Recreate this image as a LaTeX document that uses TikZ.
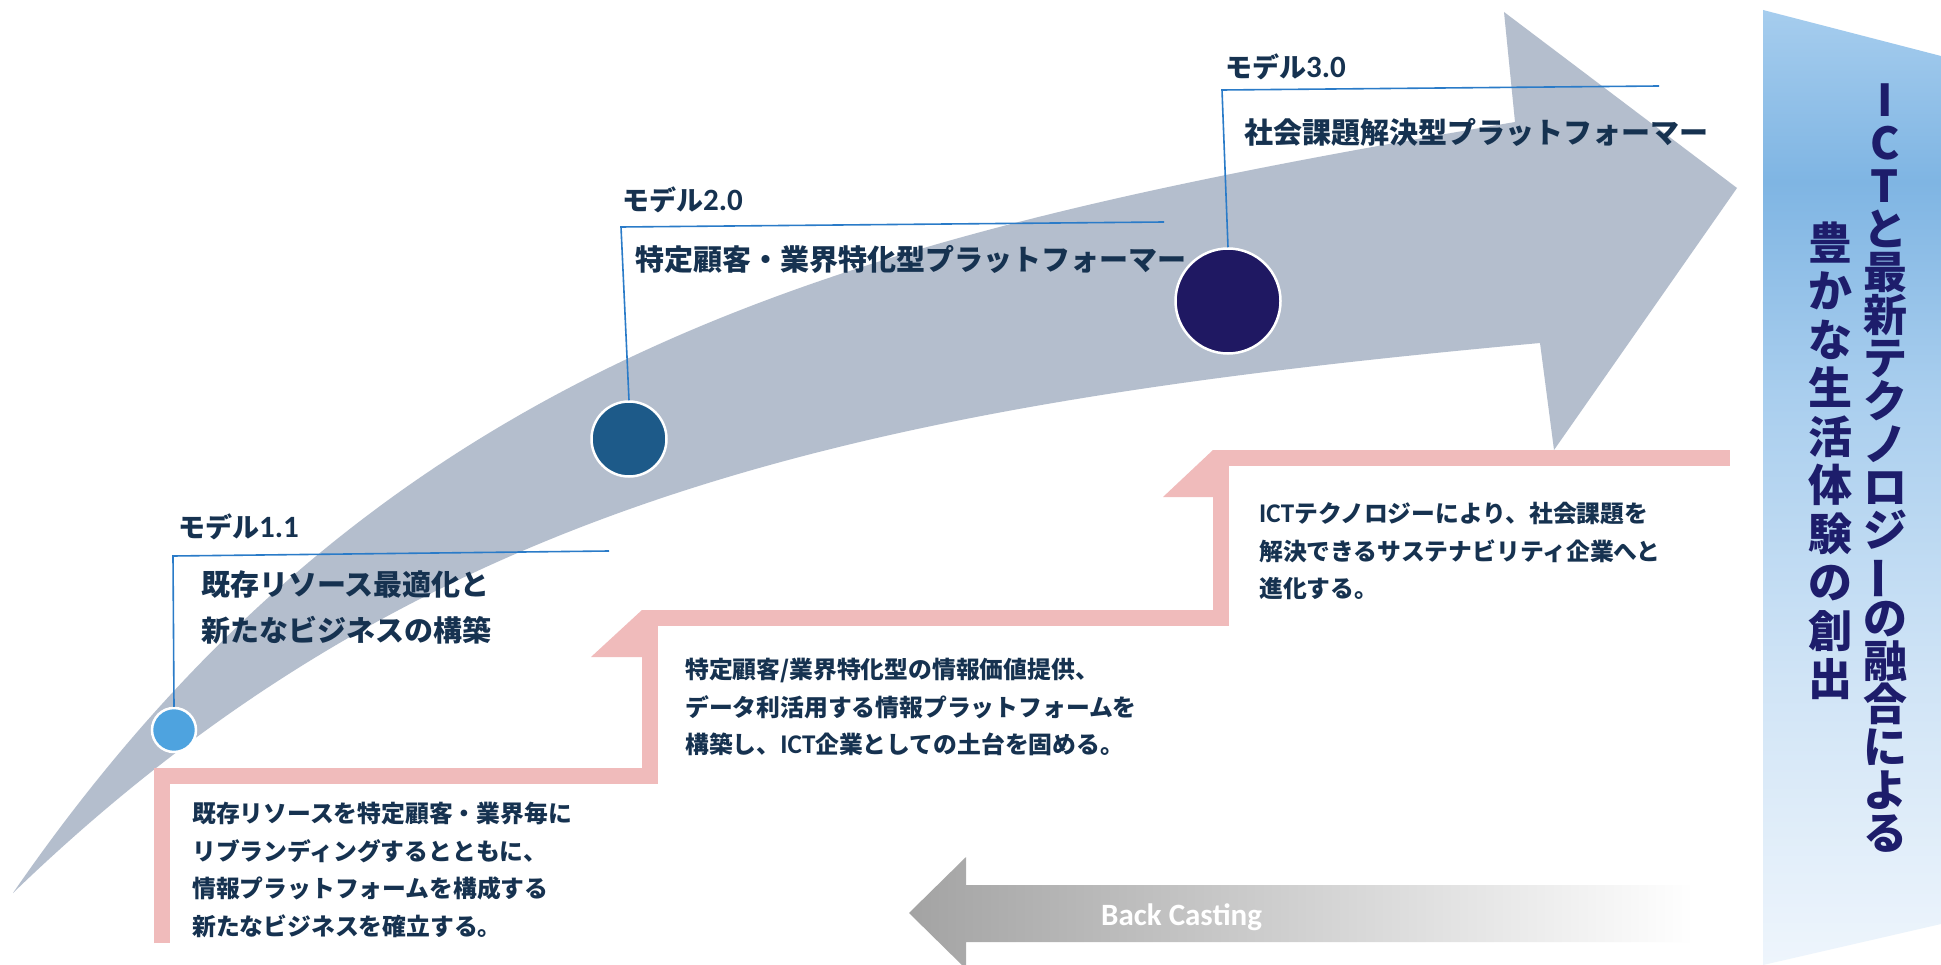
\documentclass[tikz,border=0pt]{standalone}
\usepackage{fontspec}
\usepackage{graphicx}
\setmainfont{Noto Sans CJK JP}
\newfontfamily\lat{Carlito}[BoldFont={Carlito Bold}]
\definecolor{bandc}{HTML}{B4BECD}
\definecolor{pinkc}{HTML}{F0BBBB}
\definecolor{dotA}{HTML}{4EA3DF}
\definecolor{dotB}{HTML}{1D5A89}
\definecolor{dotC}{HTML}{1F1862}
\definecolor{calloutc}{HTML}{2A7BC8}
\definecolor{txt}{HTML}{163250}
\definecolor{bannertxt}{HTML}{1D1D6B}
\definecolor{bcgrey}{HTML}{A3A3A3}
\definecolor{bnA}{HTML}{EEF5FC}
\definecolor{bnB}{HTML}{D0E4F6}
\definecolor{bnC}{HTML}{A9CEEE}
\definecolor{bnD}{HTML}{7FB5E3}
\definecolor{bnE}{HTML}{A6CDEE}
\pgfdeclareverticalshading{bannershade}{100bp}{color(0bp)=(bnA); color(25bp)=(bnA); color(40bp)=(bnB); color(55bp)=(bnC); color(66bp)=(bnD); color(75bp)=(bnE); color(100bp)=(bnE)}
\newcommand{\vbar}{\rotatebox[origin=c]{90}{ー}}
\newcommand{\latnum}[1]{{\lat\bfseries\fontsize{31}{32}\selectfont #1}}
\newcommand{\latict}{{\lat\bfseries\fontsize{27}{30}\selectfont ICT}}
\tikzset{
  lbl/.style={anchor=north west, inner sep=0pt, text=txt, font=\bfseries\fontsize{27}{30}\selectfont},
  ttl/.style={anchor=north west, inner sep=0pt, text=txt, align=left, font=\bfseries\fontsize{29}{46}\selectfont},
  desc/.style={anchor=north west, inner sep=0pt, text=txt, align=left, font=\bfseries\fontsize{23.8}{37.7}\selectfont},
  dot/.style={circle, draw=white, line width=2.5pt, inner sep=0pt},
  callout/.style={draw=calloutc, line width=1.6pt},
  stairs/.style={draw=pinkc, line width=16pt, line join=miter},
  vtext/.style={align=center, inner sep=0pt, text=bannertxt},
}
\begin{document}
\begin{tikzpicture}[x=1pt,y=-1pt]
\path[use as bounding box] (0,0) rectangle (1941,965);
\fill[white] (0,0) rectangle (1941,965);
% big curved arrow
\fill[bandc] (13,893) .. controls (393,342) and (865,233) .. (1515,122)
  -- (1504,12) -- (1737,188) -- (1554,450) -- (1540,343)
  .. controls (860,405) and (420,500) .. (13,893) -- cycle;
% pink stairs
\draw[stairs] (162,943) -- (162,776) -- (650,776) -- (650,618) -- (1221,618) -- (1221,458) -- (1730,458);
\fill[pinkc] (591,657) -- (642,610) -- (642,657) -- cycle;
\fill[pinkc] (1163,497) -- (1213,450) -- (1213,497) -- cycle;
% circles
\node[dot, fill=dotA, minimum size=44pt] (c1) at (174,730) {};
\node[dot, fill=dotB, minimum size=75pt] (c2) at (629,439) {};
\node[dot, fill=dotC, minimum size=105pt] (c3) at (1228,301) {};
% callouts
\coordinate (k1a) at (173,556);
\coordinate (k1b) at (609,551);
\coordinate (k2a) at (621,227);
\coordinate (k2b) at (1164,222);
\coordinate (k3a) at (1222,90);
\coordinate (k3b) at (1659,86);
\draw[callout] (c1.north) -- (k1a) -- (k1b);
\draw[callout] (c2.north) -- (k2a) -- (k2b);
\draw[callout] (c3.north) -- (k3a) -- (k3b);
% labels
\node[lbl] (m1) at (178,514) {モデル\latnum{1.1}};
\node[lbl] (m2) at (622,187) {モデル\latnum{2.0}};
\node[lbl] (m3) at (1225,54) {モデル\latnum{3.0}};
\node[ttl] (t1) at (201,570) {既存リソース最適化と\\新たなビジネスの構築};
\node[ttl] (t2) at (635,245) {特定顧客・業界特化型プラットフォーマー};
\node[ttl] (t3) at (1244,118) {社会課題解決型プラットフォーマー};
\node[desc] (d1) at (192,802) {既存リソースを特定顧客・業界毎に\\リブランディングするとともに、\\情報プラットフォームを構成する\\新たなビジネスを確立する。};
\node[desc] (d2) at (685,658) {特定顧客/業界特化型の情報価値提供、\\データ利活用する情報プラットフォームを\\構築し、\latict 企業としての土台を固める。};
\node[desc] (d3) at (1259,502) {\latict テクノロジーにより、社会課題を\\解決できるサステナビリティ企業へと\\進化する。};
% back casting arrow
\shade[left color=bcgrey, right color=white] (909,913) -- (966,857) -- (966,885) -- (1694,885) -- (1694,942) -- (966,942) -- (966,969) -- cycle;
\node[anchor=west, inner sep=0pt, text=white, font=\lat\bfseries\fontsize{31}{33}\selectfont] (bc) at (1101,917) {Back Casting};
% banner
\shade[shading=bannershade] (1763,10) -- (1941,56) -- (1941,924) -- (1763,965) -- cycle;
\node[vtext, font=\bfseries\fontsize{44}{43}\selectfont] (vr) at (1885,468) {I\\C\\T\\と\\最\\新\\テ\\ク\\ノ\\ロ\\ジ\\\vbar\\の\\融\\合\\に\\よ\\る};
\node[vtext, font=\bfseries\fontsize{44}{48.5}\selectfont] (vl) at (1830,461) {豊\\か\\な\\生\\活\\体\\験\\の\\創\\出};
\end{tikzpicture}
\end{document}
